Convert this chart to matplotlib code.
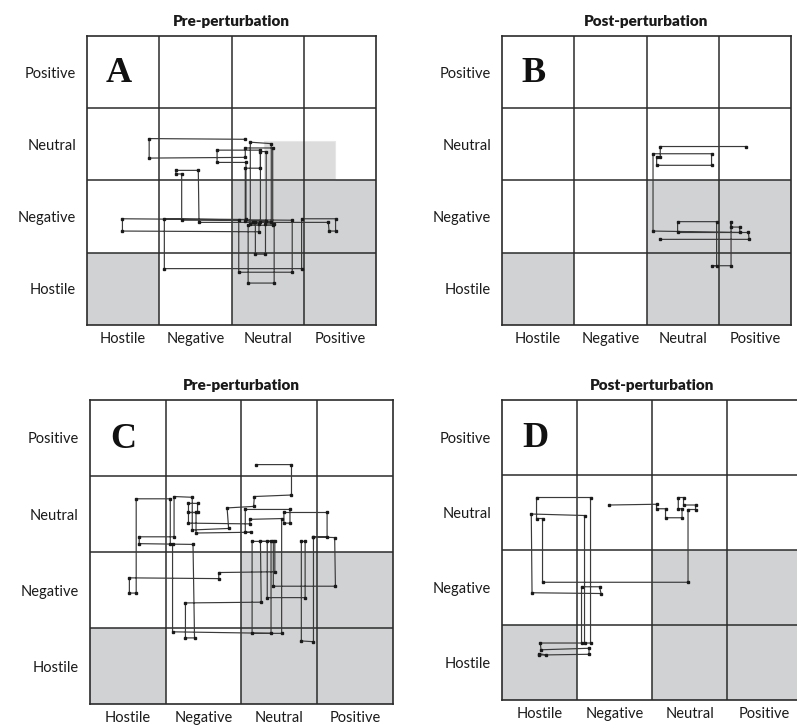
import numpy as np
import matplotlib
matplotlib.use("Agg")
import matplotlib.pyplot as plt
from matplotlib.patches import Rectangle

plt.rcParams['font.family'] = ['Lato', 'DejaVu Sans']

states = ["Hostile", "Negative", "Neutral", "Positive"]

# Shaded cells (column, row) shared by every grid
shaded_cells = [(0, 0), (2, 0), (3, 0), (2, 1), (3, 1)]

# Panel A trajectory (pre-perturbation)
a_x = [2.18, 0.86, 0.86, 2.19, 2.19, 2.57, 2.57, 2.23, 2.23, 2.59, 2.59, 2.47, 2.47, 2.33,
       2.33, 1.55, 1.54, 1.23, 1.23, 1.31, 1.31, 2.10, 2.10, 2.84, 2.84, 0.49, 0.49, 2.38,
       2.38, 2.26, 2.26, 2.55, 2.55, 2.40, 2.40, 2.48, 2.48, 2.19, 2.19, 2.40, 2.40, 1.80,
       1.80, 2.20, 2.20, 1.07, 1.07, 2.97, 2.97, 3.44, 3.44, 3.35, 3.34, 2.30]
a_y = [2.57, 2.58, 2.31, 2.32, 2.45, 2.45, 1.38, 1.38, 0.58, 0.58, 1.40, 1.40, 0.98, 0.98,
       1.42, 1.42, 2.14, 2.14, 2.09, 2.09, 1.45, 1.45, 0.73, 0.73, 1.45, 1.47, 1.30, 1.29,
       1.40, 1.40, 2.53, 2.51, 1.43, 1.43, 2.40, 2.40, 1.44, 1.44, 2.17, 2.17, 2.42, 2.42,
       2.25, 2.25, 1.46, 1.47, 0.78, 0.78, 1.47, 1.47, 1.30, 1.30, 1.42, 1.42]

# Panel B trajectory (post-perturbation)
b_x = [2.19, 3.42, 3.41, 2.43, 2.43, 2.97, 2.97, 2.90, 3.17, 3.17, 3.17, 3.29, 3.29, 2.09,
       2.09, 2.90, 2.90, 2.14, 2.14, 2.19, 2.19, 3.38]
b_y = [1.185, 1.185, 1.28, 1.28, 1.43, 1.43, 0.82, 0.82, 0.82, 1.43, 1.355, 1.355, 1.28, 1.30,
       2.37, 2.37, 2.21, 2.21, 2.33, 2.33, 2.47, 2.47]

# Panel C trajectory (pre-perturbation)
c_x = [2.19, 2.66, 2.66, 2.17, 2.16, 1.81, 1.83, 1.35, 1.35, 1.11, 1.11, 0.65, 0.65, 1.36,
       1.38, 1.26, 1.26, 2.26, 2.25, 2.39, 2.39, 1.09, 1.09, 1.06, 1.06, 0.61, 0.61, 0.52,
       0.52, 1.70, 1.70, 2.44, 2.44, 2.14, 2.14, 2.53, 2.53, 2.11, 2.11, 1.30, 1.30, 1.42,
       1.42, 1.30, 1.40, 1.40, 2.12, 2.05, 2.05, 2.64, 2.64, 2.56, 2.56, 3.13, 3.13, 2.95,
       2.95, 2.79, 2.79, 2.84, 2.84, 2.34, 2.34, 2.42, 2.42, 3.24, 3.23, 2.95]
c_y = [3.15, 3.15, 2.75, 2.73, 2.60, 2.58, 2.31, 2.29, 2.72, 2.73, 2.20, 2.20, 2.11, 2.10,
       0.87, 0.87, 1.33, 1.34, 2.14, 2.14, 0.93, 0.95, 2.11, 2.11, 2.70, 2.70, 1.46, 1.46,
       1.66, 1.65, 1.73, 1.74, 2.14, 2.14, 0.93, 0.93, 2.44, 2.43, 2.37, 2.38, 2.64, 2.64,
       2.52, 2.52, 2.52, 2.25, 2.26, 2.26, 2.56, 2.56, 2.38, 2.38, 2.52, 2.52, 2.20, 2.20,
       0.82, 0.83, 2.14, 2.14, 1.40, 1.40, 2.14, 2.14, 1.55, 1.55, 2.19, 2.20]

# Panel D trajectory (post-perturbation)
d_x = [1.43, 2.06, 2.06, 2.18, 2.18, 2.40, 2.40, 2.35, 2.35, 2.42, 2.42, 2.58, 2.58, 2.48,
       2.48, 0.54, 0.54, 0.46, 0.46, 1.18, 1.18, 1.10, 1.10, 0.39, 0.40, 1.32, 1.30, 1.06,
       1.06, 0.51, 0.52, 1.16, 1.16, 0.49, 0.49, 0.59]
d_y = [2.60, 2.61, 2.55, 2.55, 2.43, 2.43, 2.55, 2.55, 2.70, 2.70, 2.60, 2.60, 2.54, 2.54,
       1.57, 1.57, 2.42, 2.42, 2.70, 2.70, 0.76, 0.76, 2.46, 2.48, 1.43, 1.42, 1.51, 1.51,
       0.76, 0.76, 0.67, 0.69, 0.61, 0.60, 0.62, 0.60]

panels = [
    ("A", "Pre-perturbation", a_x, a_y, [0.1092, 0.5530, 0.3626, 0.3975]),
    ("B", "Post-perturbation", b_x, b_y, [0.6299, 0.5530, 0.3626, 0.3975]),
    ("C", "Pre-perturbation", c_x, c_y, [0.1129, 0.0316, 0.3802, 0.4182]),
    ("D", "Post-perturbation", d_x, d_y, [0.6299, 0.0371, 0.3764, 0.4127]),
]

fig = plt.figure(figsize=(7.97, 7.27), dpi=100)
grid_color = "#2b2b2b"
shade = "#d1d2d4"

for letter, title, xs, ys, rect in panels:
    ax = fig.add_axes(rect)
    ax.set_xlim(0, 4)
    ax.set_ylim(0, 4)
    for (cx, cy) in shaded_cells:
        ax.add_patch(Rectangle((cx, cy), 1, 1, facecolor=shade, edgecolor="none", zorder=0))
    if letter == "A":
        # partially shaded region inside the neutral row
        ax.add_patch(Rectangle((2.45, 2.0), 0.98, 0.545, facecolor="#dcdcdd",
                               edgecolor="#e6e6e6", linewidth=0.8, zorder=0))
    for k in range(1, 4):
        ax.axvline(k, color=grid_color, linewidth=1.1, zorder=1)
        ax.axhline(k, color=grid_color, linewidth=1.1, zorder=1)
    for sp in ax.spines.values():
        sp.set_color(grid_color)
        sp.set_linewidth(1.2)
    ax.plot(xs, ys, color="#3a3a3a", linewidth=0.85, zorder=2,
            marker="s", markersize=2.0, markerfacecolor="#1a1a1a", markeredgecolor="#1a1a1a")
    ax.set_xticks([0.5, 1.5, 2.5, 3.5])
    ax.set_xticklabels(states)
    ax.set_yticks([0.5, 1.5, 2.5, 3.5])
    ax.set_yticklabels(states)
    ax.tick_params(axis="y", length=0, labelsize=10.5, colors="#1a1a1a", pad=8)
    ax.tick_params(axis="x", length=0, labelsize=10.5, colors="#1a1a1a", pad=5)
    ax.set_title(title, fontsize=11, fontweight="heavy", color="#1a1a1a", pad=7)
    ax.text(0.44, 3.48, letter, ha="center", va="center", fontsize=26, fontweight="bold",
            family=["Liberation Serif", "DejaVu Serif"], color="#111111", zorder=3)

fig.savefig("out.png", dpi=100)
